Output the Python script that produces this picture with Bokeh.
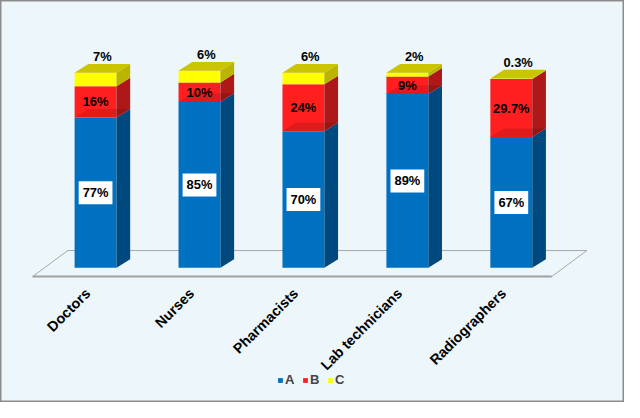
import math
from bokeh.plotting import figure
from bokeh.models import Range1d, Legend, LegendItem, ColumnDataSource
from bokeh.embed import file_html
from bokeh.resources import INLINE
from bokeh.core.properties import value

# ---------------- data ----------------
categories = ["Doctors", "Nurses", "Pharmacists", "Lab technicians", "Radiographers"]
series_names = ["A", "B", "C"]
a_values = [77, 85, 70, 89, 67]
b_values = [16, 10, 24, 9, 29.7]
c_values = [7, 6, 6, 2, 0.3]
a_labels = ["77%", "85%", "70%", "89%", "67%"]
b_labels = ["16%", "10%", "24%", "9%", "29.7%"]
c_labels = ["7%", "6%", "6%", "2%", "0.3%"]

# ---------------- styling / geometry (design units = 640x418 canvas) ----------------
W, H = 624, 402
DW, DH = 640.0, 418.0
X0_PX, STEP_PX = 97.5, 106.6      # design px of first category, spacing
Y0_PX, PCT_PX = 278.0, 2.03       # design px (from top) of 0 %, px per percent
ux = 1.0 / STEP_PX
uy = 1.0 / PCT_PX
BAR_W = 43 * ux
DX, DY = 14 * ux, 9 * uy

FONT = value("Liberation Sans")
BG = "#EDF6FA"

front_colors = ["#0070C0", "#FF1F1F", "#FFFF00"]
side_colors = ["#00497E", "#AE1818", "#BAB500"]
top_color = "#CAC500"

p = figure(width=W, height=H, output_backend="svg", toolbar_location=None,
           x_range=Range1d(-X0_PX / STEP_PX, (DW - X0_PX) / STEP_PX),
           y_range=Range1d((Y0_PX - DH) / PCT_PX, Y0_PX / PCT_PX),
           min_border=0, background_fill_color=BG, border_fill_color=BG,
           outline_line_color="#8C8C8C", outline_line_width=2)
p.axis.visible = False
p.grid.visible = False

xs = list(range(len(categories)))
n = len(xs)

# floor
fl = xs[0] - 64.5 * ux
fr = xs[-1] + 41.5 * ux
fdx, fy0, fy1 = 36 * ux, -9 * uy, 18 * uy
p.patch([fl, fr, fr + fdx, fl + fdx], [fy0, fy0, fy1, fy1],
        fill_color=BG, line_color="#A8A8A8", line_width=1)
p.line([fl, fr], [fy0, fy0], line_color="#A0A0A0", line_width=2)

series = [a_values, b_values, c_values]
bottoms = [0.0] * n
front_renderers = []
segments = []
for k, vals in enumerate(series):
    tops = [b + v for b, v in zip(bottoms, vals)]
    segments.append((list(bottoms), tops))
    r = p.vbar(x=xs, bottom=bottoms, top=tops, width=BAR_W,
               fill_color=front_colors[k], line_color=None)
    front_renderers.append(r)
    sx, sy = [], []
    for i in range(n):
        xr = xs[i] + BAR_W / 2
        sx.append([xr, xr + DX, xr + DX, xr])
        sy.append([bottoms[i], bottoms[i] + DY, tops[i] + DY, tops[i]])
    p.patches(sx, sy, fill_color=side_colors[k], line_color=None)
    bottoms = tops

# darker bottom face of the B segment (seen through)
bot_b, _ = segments[1]
sx, sy = [], []
for i in range(n):
    xl, xr = xs[i] - BAR_W / 2, xs[i] + BAR_W / 2
    sx.append([xl, xr, xr + DX, xl + DX])
    sy.append([bot_b[i], bot_b[i], bot_b[i] + DY, bot_b[i] + DY])
p.patches(sx, sy, fill_color="black", fill_alpha=0.12, line_color=None)

# top faces
totals = bottoms
sx, sy = [], []
for i in range(n):
    xl, xr = xs[i] - BAR_W / 2, xs[i] + BAR_W / 2
    sx.append([xl, xr, xr + DX, xl + DX])
    sy.append([totals[i], totals[i], totals[i] + DY, totals[i] + DY])
p.patches(sx, sy, fill_color=top_color, line_color=None)

# value labels
a_src = ColumnDataSource(dict(x=xs, y=[v / 2 for v in a_values], t=a_labels))
p.text(x="x", y="y", text="t", source=a_src, text_align="center",
       text_baseline="middle", text_font=FONT, text_font_style="bold",
       text_font_size="12.9px", text_color="black",
       background_fill_color="white", padding=4)

b_src = ColumnDataSource(dict(x=xs, y=[a + b / 2 for a, b in zip(a_values, b_values)], t=b_labels))
p.text(x="x", y="y", text="t", source=b_src, text_align="center",
       text_baseline="middle", text_font=FONT, text_font_style="bold",
       text_font_size="12.9px", text_color="black")

c_src = ColumnDataSource(dict(x=[x + DX / 2 for x in xs],
                              y=[t + DY + 8 * uy for t in totals], t=c_labels))
p.text(x="x", y="y", text="t", source=c_src, text_align="center",
       text_baseline="middle", text_font=FONT, text_font_style="bold",
       text_font_size="12.9px", text_color="black")

# category labels
cat_src = ColumnDataSource(dict(x=[x - 8 * ux for x in xs],
                                y=[-24 * uy] * n, t=categories))
p.text(x="x", y="y", text="t", source=cat_src, angle=math.pi / 4,
       text_align="right", text_baseline="middle", text_font=FONT,
       text_font_style="bold", text_font_size="14.3px", text_color="black")

legend = Legend(items=[LegendItem(label=s, renderers=[r])
                       for s, r in zip(series_names, front_renderers)],
                orientation="horizontal", location=(277, 15),
                glyph_width=6, glyph_height=6, label_standoff=2, spacing=7,
                label_width=10, label_height=12, label_text_font="Liberation Sans",
                label_text_font_style="bold", label_text_font_size="13px",
                padding=0, margin=0, border_line_color=None,
                background_fill_alpha=0)
p.add_layout(legend, "center")

open("out.html", "w").write(file_html(p, INLINE))
